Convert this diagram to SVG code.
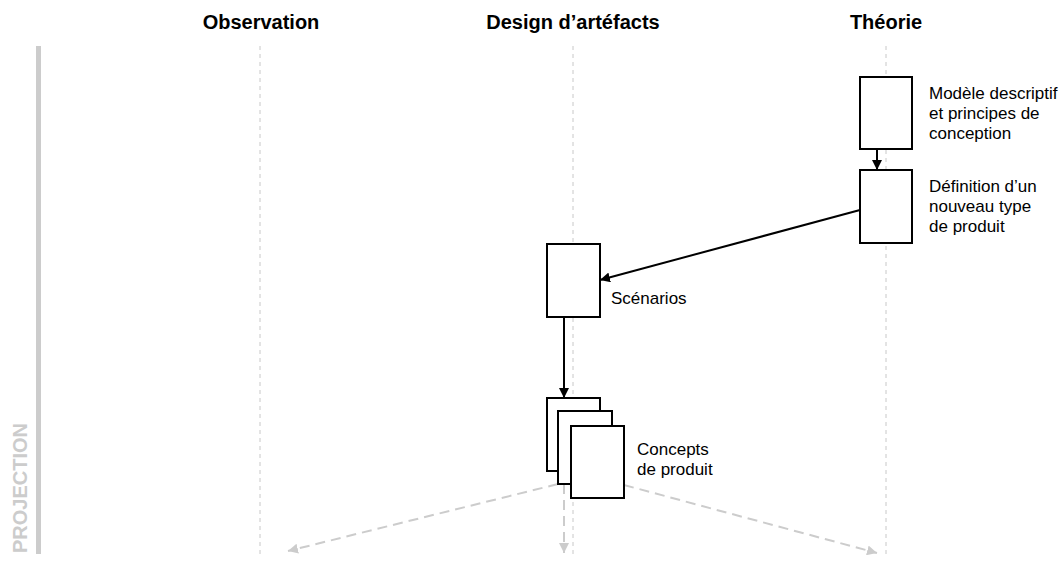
<svg xmlns="http://www.w3.org/2000/svg" width="1064" height="562" viewBox="0 0 1064 562">
<style>
.title{font-family:"Liberation Sans",Arial,sans-serif;font-weight:bold;font-size:20px;fill:#000;text-anchor:middle}
.lbl{font-family:"Liberation Sans",Arial,sans-serif;font-size:17px;fill:#000}
.lane{stroke:#c8c8c8;stroke-width:1;stroke-dasharray:4 4;fill:none}
.box{fill:#fff;stroke:#000;stroke-width:2}
.conn{stroke:#000;stroke-width:2;fill:none}
.proj{stroke:#cccccc;stroke-width:2;stroke-dasharray:10 6;fill:none}
</style>
<defs>
<marker id="ah" viewBox="0 0 10 10" refX="10" refY="5" markerWidth="5" markerHeight="5" markerUnits="strokeWidth" orient="auto">
<path d="M0,0 L10,5 L0,10 z" fill="#000"/>
</marker>
<marker id="ag" viewBox="0 0 10 10" refX="10" refY="5" markerWidth="5" markerHeight="5" markerUnits="strokeWidth" orient="auto">
<path d="M0,0 L10,5 L0,10 z" fill="#cccccc"/>
</marker>
</defs>
<rect x="36" y="46" width="5" height="508" fill="#cccccc"/>
<text transform="translate(27,553) rotate(-90)" font-family="Liberation Sans,Arial,sans-serif" font-weight="bold" font-size="20" fill="#cccccc">PROJECTION</text>
<g id="lanes">
<text class="title" x="261" y="29">Observation</text>
<text class="title" x="573" y="29">Design d’artéfacts</text>
<text class="title" x="886" y="29">Théorie</text>
<line class="lane" x1="260" y1="46" x2="260" y2="558"/>
<line class="lane" x1="573" y1="46" x2="573" y2="558"/>
<line class="lane" x1="886" y1="46" x2="886" y2="558"/>
</g>
<g id="connectors">
<line class="conn" x1="877" y1="149" x2="877" y2="170" marker-end="url(#ah)"/>
<line class="conn" x1="860" y1="210" x2="600" y2="280" marker-end="url(#ah)"/>
<line class="conn" x1="564" y1="317" x2="564" y2="398" marker-end="url(#ah)"/>
<line class="proj" x1="558" y1="484" x2="288" y2="551" marker-end="url(#ag)"/>
<line class="proj" x1="564" y1="484" x2="564" y2="553" marker-end="url(#ag)"/>
<line class="proj" x1="624" y1="485" x2="877" y2="553" marker-end="url(#ag)"/>
</g>
<g id="modele">
<rect class="box" x="860" y="77" width="52" height="72"/>
<text class="lbl" x="929" y="99">Modèle descriptif</text>
<text class="lbl" x="929" y="119">et principes de</text>
<text class="lbl" x="929" y="139">conception</text>
</g>
<g id="definition">
<rect class="box" x="860" y="170" width="52" height="73"/>
<text class="lbl" x="929" y="192">Définition d’un</text>
<text class="lbl" x="929" y="212">nouveau type</text>
<text class="lbl" x="929" y="232">de produit</text>
</g>
<g id="scenarios">
<rect class="box" x="547" y="244" width="53" height="73"/>
<text class="lbl" x="611" y="304">Scénarios</text>
</g>
<g id="concepts">
<rect class="box" x="547" y="398" width="53" height="73"/>
<rect class="box" x="558" y="411" width="54" height="73"/>
<rect class="box" x="571" y="426" width="53" height="72"/>
<text class="lbl" x="637" y="455">Concepts</text>
<text class="lbl" x="637" y="475">de produit</text>
</g>
</svg>
